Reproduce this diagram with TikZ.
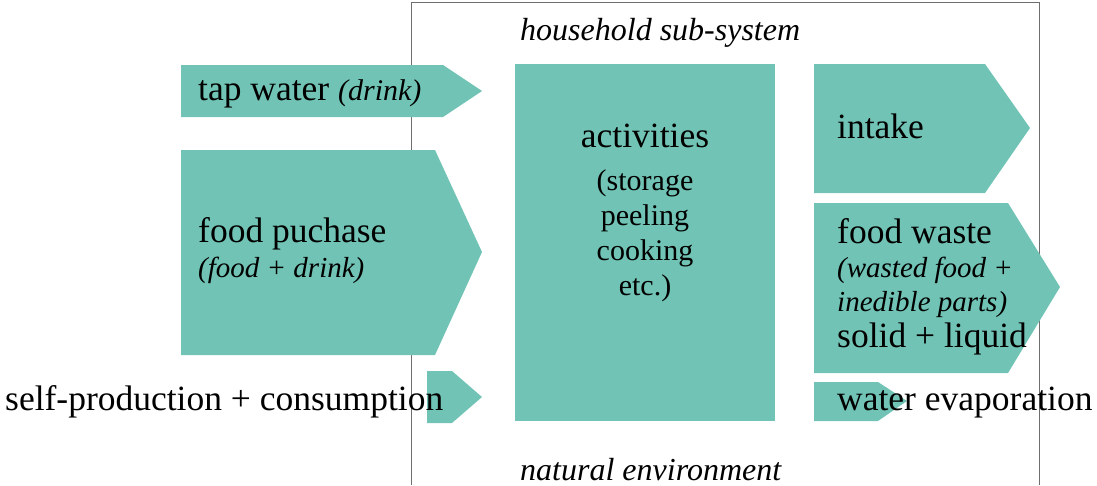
\documentclass[tikz,border=0pt]{standalone}
\usepackage{fontspec}
\setmainfont{Liberation Serif}
\definecolor{flowgreen}{HTML}{71C4B5}
\definecolor{framegray}{HTML}{6E6E6E}
\tikzset{
  flow/.style={fill=flowgreen},
  frameline/.style={draw=framegray, line width=1pt},
  mainlbl/.style={inner sep=0pt, anchor=base west, font=\fontsize{35.5}{41}\selectfont},
  sublbl/.style={inner sep=0pt, anchor=base west, font=\fontsize{29}{34}\selectfont\itshape},
  actlbl/.style={inner sep=0pt, anchor=base, font=\fontsize{30}{35}\selectfont},
  syslbl/.style={inner sep=0pt, anchor=base west, font=\fontsize{32}{38}\selectfont\itshape},
}
\begin{document}
\begin{tikzpicture}[x=1pt, y=-1pt]
\useasboundingbox (0,0) rectangle (1097,485);

% household sub-system boundary (open at the bottom)
\draw[frameline] (411,485) -- (411,2) -- (1039,2) -- (1039,485);

% inflows
\fill[flow] (181,65) -- (443,65) -- (482,91) -- (443,117) -- (181,117) -- cycle;
\fill[flow] (181,150) -- (435,150) -- (482,252) -- (435,355) -- (181,355) -- cycle;
\fill[flow] (427,371) -- (452,371) -- (482,397) -- (452,423) -- (427,423) -- cycle;

% activities block
\fill[flow] (515,64) rectangle (775,421);

% outflows
\fill[flow] (814,64) -- (985,64) -- (1030,128) -- (985,193) -- (814,193) -- cycle;
\fill[flow] (814,203) -- (1008,203) -- (1060,287) -- (1008,373) -- (814,373) -- cycle;
\fill[flow] (814,382) -- (878,382) -- (907,401) -- (878,421) -- (814,421) -- cycle;

% labels
\node[syslbl] (sys) at (520,40) {household sub-system};
\node[syslbl] (env) at (520,480) {natural environment};

\node[mainlbl] (tap) at (198,100) {tap water \fontsize{30}{35}\selectfont\itshape(drink)};
\node[mainlbl] (food) at (198,242) {food puchase};
\node[sublbl] (foodsub) at (198,277) {(food + drink)};
\node[mainlbl] (self) at (5,410) {self-production + consumption};

\node[actlbl, font=\fontsize{35.5}{41}\selectfont] (act) at (645,147) {activities};
\node[actlbl] (act1) at (645,190) {(storage};
\node[actlbl] (act2) at (645,225) {peeling};
\node[actlbl] (act3) at (645,260) {cooking};
\node[actlbl] (act4) at (645,295) {etc.)};

\node[mainlbl] (intake) at (837,138) {intake};
\node[mainlbl] (waste) at (837,243) {food waste};
\node[sublbl] (waste1) at (837,277) {(wasted food +};
\node[sublbl] (waste2) at (837,311) {inedible parts)};
\node[mainlbl] (waste3) at (837,347) {solid + liquid};
\node[mainlbl] (evap) at (837,410) {water evaporation};
\end{tikzpicture}
\end{document}
